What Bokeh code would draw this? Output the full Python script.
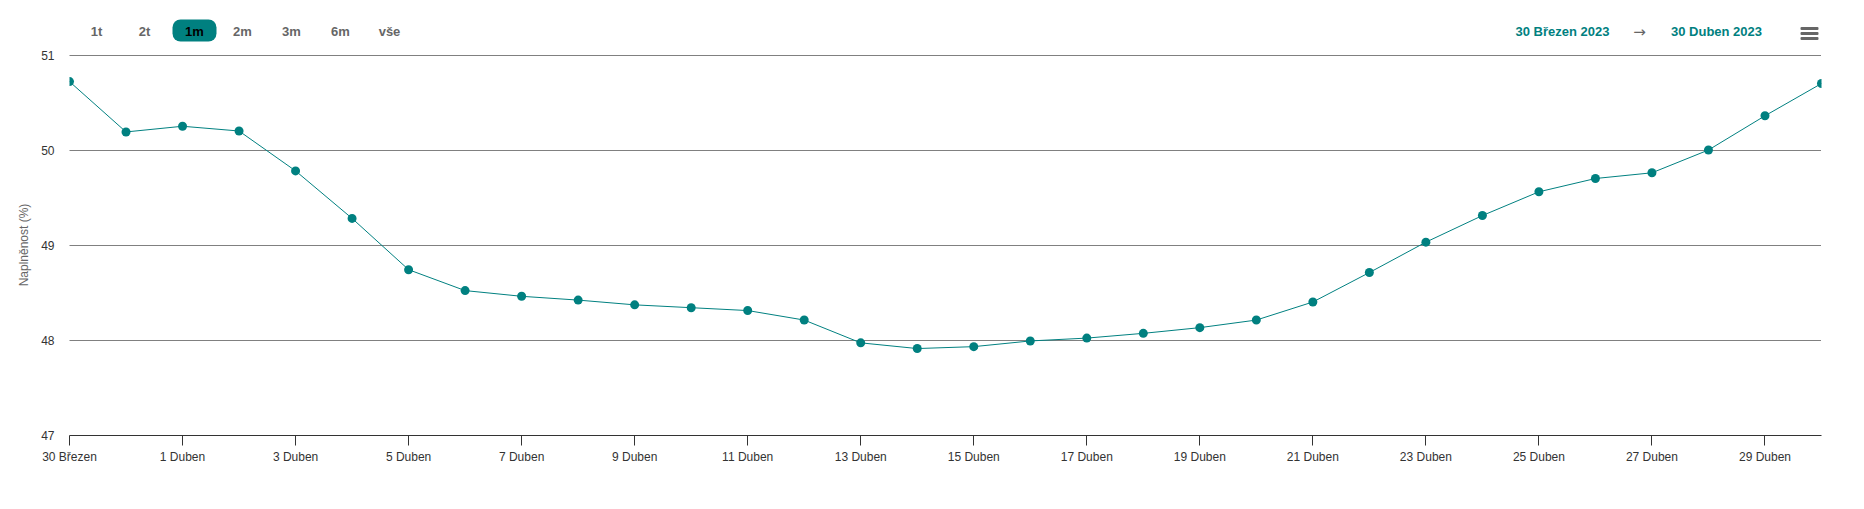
import pandas as pd
from bokeh.plotting import figure
from bokeh.layouts import column
from bokeh.models import Range1d, FixedTicker, ColumnDataSource
from bokeh.core.properties import value
from bokeh.embed import file_html
from bokeh.resources import INLINE

# ---- data ----
dates = pd.date_range("2023-03-30", "2023-04-30", freq="D")
values = [50.72, 50.19, 50.25, 50.20, 49.78, 49.28, 48.74, 48.52, 48.46, 48.42,
          48.37, 48.34, 48.31, 48.21, 47.97, 47.91, 47.93, 47.99, 48.02, 48.07,
          48.13, 48.21, 48.40, 48.71, 49.03, 49.31, 49.56, 49.70, 49.76, 50.00,
          50.36, 50.70]
tick_dates = ["2023-03-30", "2023-04-01", "2023-04-03", "2023-04-05", "2023-04-07",
              "2023-04-09", "2023-04-11", "2023-04-13", "2023-04-15", "2023-04-17",
              "2023-04-19", "2023-04-21", "2023-04-23", "2023-04-25", "2023-04-27",
              "2023-04-29"]
tick_labels = ["30 Březen", "1 Duben", "3 Duben", "5 Duben", "7 Duben", "9 Duben",
               "11 Duben", "13 Duben", "15 Duben", "17 Duben", "19 Duben", "21 Duben",
               "23 Duben", "25 Duben", "27 Duben", "29 Duben"]
y_ticks = [47, 48, 49, 50, 51]
range_buttons = ["1t", "2t", "1m", "2m", "3m", "6m", "vše"]
selected_button = "1m"
range_from = "30 Březen 2023"
range_to = "30 Duben 2023"
y_title = "Naplněnost (%)"

TEAL = "#008080"
FONT = "Liberation Sans"
W = 1856
LEFT, RIGHT = 69, 35
PX_PER_UNIT = 95
FRAME_H = PX_PER_UNIT * (y_ticks[-1] - y_ticks[0]) + 1

def ms(d):
    return int(pd.Timestamp(d).value // 10**6)

# ---- header strip (range selector, date range, menu icon), page coordinates ----
hdr = figure(width=W, height=46, output_backend="svg", toolbar_location=None,
             x_range=Range1d(LEFT, W - RIGHT), y_range=Range1d(46, 0),
             min_border_left=LEFT, min_border_right=RIGHT, min_border_top=0, min_border_bottom=0)
hdr.axis.visible = False
hdr.grid.visible = False
hdr.outline_line_color = None
btn_x = [96, 144, 194, 242, 291, 340, 389]
sel = range_buttons.index(selected_button)
hdr.quad(left=[btn_x[sel] - 22], right=[btn_x[sel] + 22], top=[19], bottom=[41],
         fill_color=TEAL, line_color=None, border_radius=8)
hdr.text(x=btn_x, y=[31] * len(btn_x), text=range_buttons,
         text_color=["#000000" if b == selected_button else "#666666" for b in range_buttons],
         text_align="center", text_baseline="middle",
         text_font=value(FONT), text_font_size="13px", text_font_style="bold")
hdr.text(x=[1562, 1716], y=[31, 31], text=[range_from, range_to], text_color=TEAL,
         text_align="center", text_baseline="middle",
         text_font=value(FONT), text_font_size="13px", text_font_style="bold")
hdr.text(x=[1639], y=[31], text=["→"], text_color="#666666",
         text_align="center", text_baseline="middle",
         text_font=value("DejaVu Sans"), text_font_size="15px")
hdr.quad(left=[1800] * 3, right=[1818] * 3, top=[26.5, 31.5, 36.5], bottom=[29.5, 34.5, 39.5],
         fill_color="#666666", line_color=None, border_radius=1)

# ---- main chart ----
src = ColumnDataSource(dict(x=dates, y=values))
half_px = 0.5 / PX_PER_UNIT  # puts the 1px grid lines on pixel centres

p = figure(width=W, height=8 + FRAME_H + 67, output_backend="svg", toolbar_location=None,
           x_axis_type="datetime",
           x_range=Range1d(dates[0], dates[-1]),
           y_range=Range1d(y_ticks[0] - half_px, y_ticks[-1] + half_px),
           min_border_left=LEFT, min_border_right=RIGHT, min_border_top=8, min_border_bottom=67)
p.outline_line_color = None

# dotted horizontal grid lines
p.hspan(y=y_ticks[1:], line_color="#000000", line_dash="1 1", line_width=1)

p.line("x", "y", source=src, line_color=TEAL, line_width=1)
p.scatter("x", "y", source=src, size=9, fill_color=TEAL, line_color=TEAL, line_width=0)

xa = p.xaxis[0]
xa.ticker = FixedTicker(ticks=[ms(d) for d in tick_dates])
xa.major_label_overrides = {ms(d): lab for d, lab in zip(tick_dates, tick_labels)}
xa.axis_line_color = "#333333"
xa.major_tick_line_color = "#333333"
xa.major_tick_in = 0
xa.major_tick_out = 10
xa.minor_tick_line_color = None
xa.major_label_standoff = 4
xa.major_label_text_font = FONT
xa.major_label_text_font_size = "12px"
xa.major_label_text_color = "#333333"
p.xgrid.grid_line_color = None
p.ygrid.grid_line_color = None

ya = p.yaxis[0]
ya.ticker = FixedTicker(ticks=y_ticks)
ya.axis_line_color = None
ya.major_tick_line_color = None
ya.minor_tick_line_color = None
ya.major_tick_in = 0
ya.major_tick_out = 0
ya.major_label_standoff = 15
ya.major_label_text_font = FONT
ya.major_label_text_font_size = "12px"
ya.major_label_text_color = "#333333"
ya.axis_label = y_title
ya.axis_label_standoff = 7
ya.axis_label_text_font = FONT
ya.axis_label_text_font_size = "12px"
ya.axis_label_text_font_style = "normal"
ya.axis_label_text_color = "#666666"

layout = column(hdr, p, spacing=0)
open("out.html", "w").write(file_html(layout, INLINE))
